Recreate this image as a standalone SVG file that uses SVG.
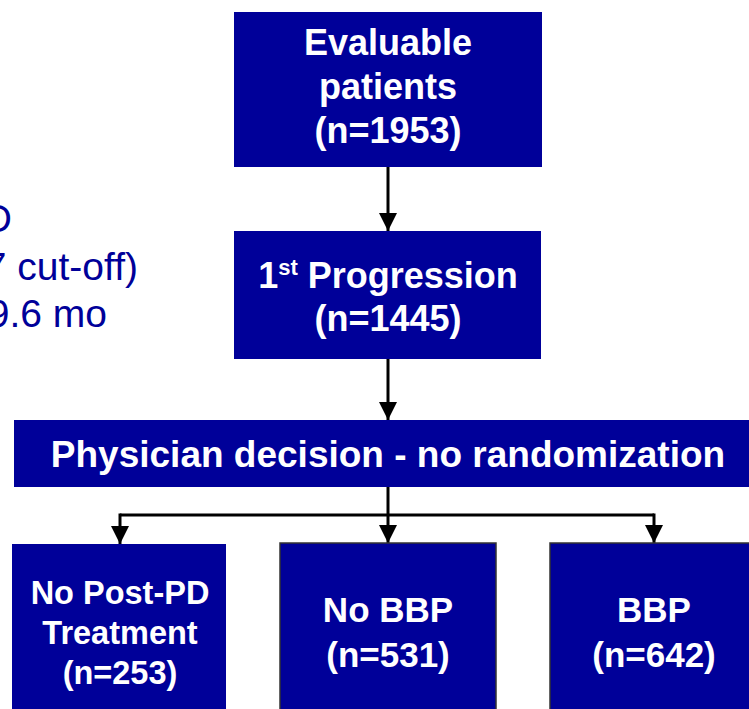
<svg xmlns="http://www.w3.org/2000/svg" width="749" height="709" viewBox="0 0 749 709">
<defs>
<style>
.box{fill:#000099;}
.bord{stroke:#333333;stroke-width:1.5;}
.t{font-family:"Liberation Sans",Arial,sans-serif;font-weight:bold;fill:#ffffff;text-anchor:middle;}
.side{font-family:"Liberation Sans",Arial,sans-serif;fill:#000099;font-size:39px;}
.conn{stroke:#000000;stroke-width:3;fill:none;}
</style>
<marker id="ah" viewBox="0 0 18 18" refX="18" refY="9" markerWidth="18" markerHeight="18" markerUnits="userSpaceOnUse" orient="auto">
<path d="M0,0 L18,9 L0,18 Z" fill="#000000"/>
</marker>
</defs>
<rect width="749" height="709" fill="#ffffff"/>
<g id="sidetext">
<text class="side" x="12" y="232" text-anchor="end">D</text>
<text class="side" x="138" y="280" text-anchor="end">7 cut-off)</text>
<text class="side" x="107" y="327" text-anchor="end">9.6 mo</text>
</g>
<g id="connectors">
<line class="conn" x1="388" y1="167" x2="388" y2="231" marker-end="url(#ah)"/>
<line class="conn" x1="388" y1="359" x2="388" y2="420" marker-end="url(#ah)"/>
<line class="conn" x1="388" y1="487" x2="388" y2="543" marker-end="url(#ah)"/>
<polyline class="conn" points="120,515 654,515"/>
<line class="conn" x1="120" y1="513.5" x2="120" y2="544" marker-end="url(#ah)"/>
<line class="conn" x1="654" y1="513.5" x2="654" y2="543" marker-end="url(#ah)"/>
</g>
<g id="evaluable">
<rect class="box" x="234" y="12" width="308" height="155"/>
<text class="t" x="388" y="55" font-size="36">Evaluable</text>
<text class="t" x="388" y="99" font-size="36">patients</text>
<text class="t" x="388" y="143" font-size="36">(n=1953)</text>
</g>
<g id="progression">
<rect class="box" x="234" y="231" width="307" height="128"/>
<text class="t" x="388" y="288" font-size="36">1<tspan font-size="22" dy="-13">st</tspan><tspan dy="13"> Progression</tspan></text>
<text class="t" x="388" y="331" font-size="36">(n=1445)</text>
</g>
<g id="physician">
<rect class="box" x="14" y="420" width="740" height="67"/>
<text class="t" x="388" y="467" font-size="37">Physician decision - no randomization</text>
</g>
<g id="nopostpd">
<rect class="box" x="12" y="544" width="214" height="170"/>
<text class="t" x="120" y="604" font-size="32.5">No Post-PD</text>
<text class="t" x="120" y="644" font-size="32.5">Treatment</text>
<text class="t" x="120" y="684" font-size="32.5">(n=253)</text>
</g>
<g id="nobbp">
<rect class="box bord" x="280" y="543" width="216" height="170"/>
<text class="t" x="388" y="622" font-size="35">No BBP</text>
<text class="t" x="388" y="667" font-size="35">(n=531)</text>
</g>
<g id="bbp">
<rect class="box bord" x="550" y="543" width="210" height="170"/>
<text class="t" x="654" y="622" font-size="35">BBP</text>
<text class="t" x="654" y="667" font-size="35">(n=642)</text>
</g>
</svg>
